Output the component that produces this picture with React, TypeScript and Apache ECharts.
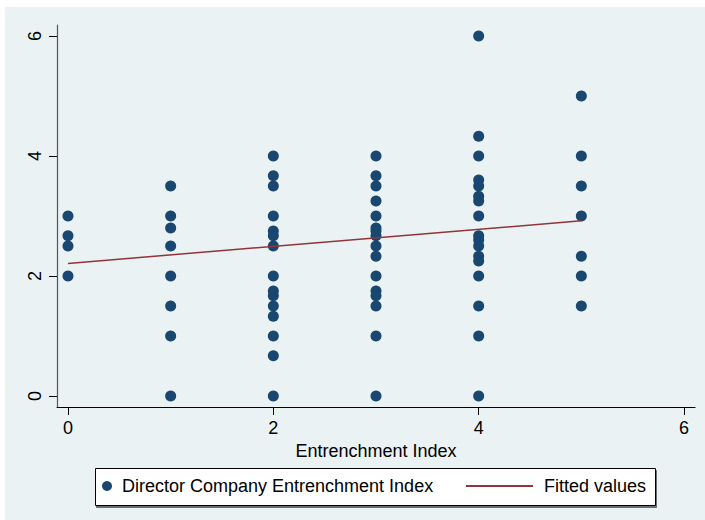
import React, { useEffect, useRef } from "react";
import * as echarts from "echarts";

const xTicks = [0, 2, 4, 6];
const yTicks = [0, 2, 4, 6];

const col0 = [3, 2.67, 2.5, 2];
const col1 = [3.5, 3, 2.8, 2.5, 2, 1.5, 1, 0];
const col2 = [4, 3.67, 3.5, 3, 2.75, 2.67, 2.5, 2, 1.75, 1.67, 1.5, 1.33, 1, 0.67, 0];
const col3 = [4, 3.67, 3.5, 3.25, 3, 2.8, 2.75, 2.67, 2.5, 2.33, 2, 1.75, 1.67, 1.5, 1, 0];
const col4 = [6, 4.33, 4, 3.6, 3.5, 3.33, 3.25, 3, 2.67, 2.6, 2.5, 2.33, 2.25, 2, 1.5, 1, 0];
const col5 = [5, 4, 3.5, 3, 2.33, 2, 1.5];
const columns = [col0, col1, col2, col3, col4, col5];

const fitX = [0, 5];
const fitY = [2.21, 2.92];

const scatterName = "Director Company Entrenchment Index";
const fitName = "Fitted values";

export default function App() {
  const ref = useRef<HTMLDivElement>(null);
  useEffect(() => {
    if (!ref.current) return;
    const chart = echarts.init(ref.current, null, { renderer: "svg" });
    const scatterData: number[][] = [];
    columns.forEach((vals, i) => vals.forEach((v) => scatterData.push([i, v])));
    const fitData = fitX.map((x, i) => [x, fitY[i]]);
    const font = "'Liberation Sans', Arial, sans-serif";
    chart.setOption({
      animation: false,
      backgroundColor: "#ffffff",
      graphic: [
        {
          type: "rect",
          z: 0,
          shape: { x: 5, y: 7, width: 700, height: 513 },
          style: { fill: "#eaf2f3" },
          silent: true,
        },
        {
          type: "rect",
          z: 1,
          shape: { x: 95.5, y: 468.5, width: 560, height: 37 },
          style: {
            fill: "#ffffff",
            stroke: "#000000",
            lineWidth: 1,
            shadowColor: "rgba(0,0,0,0.55)",
            shadowOffsetX: 1,
            shadowOffsetY: 2,
            shadowBlur: 0,
          },
          silent: true,
        },
      ],
      grid: {
        left: 57,
        right: 10,
        top: 25,
        bottom: 113,
        show: true,
        backgroundColor: "#ffffff",
        borderWidth: 0,
      },
      xAxis: {
        type: "value",
        min: -0.107,
        max: 6.107,
        name: "Entrenchment Index",
        nameLocation: "middle",
        nameGap: 34,
        nameTextStyle: { fontSize: 18, color: "#000", fontFamily: font },
        axisLine: { show: true, onZero: false, lineStyle: { color: "#000", width: 1.2 } },
        axisTick: { show: true, customValues: xTicks, length: 8, lineStyle: { color: "#000" } },
        axisLabel: { customValues: xTicks, fontSize: 18, color: "#000", margin: 12, fontFamily: font },
        splitLine: { show: false },
      },
      yAxis: {
        type: "value",
        min: -0.183,
        max: 6.183,
        axisLine: { show: true, onZero: false, lineStyle: { color: "#555", width: 1.2 } },
        axisTick: { show: true, customValues: yTicks, length: 8, lineStyle: { color: "#000" } },
        axisLabel: {
          customValues: yTicks,
          fontSize: 18,
          color: "#000",
          rotate: 90,
          margin: 13,
          fontFamily: font,
        },
        splitLine: { show: true, customValues: yTicks, lineStyle: { color: "#eaf2f3", width: 1.5 } },
      },
      legend: [
        {
          data: [scatterName],
          left: 102,
          top: 477,
          z: 5,
          padding: 0,
          icon: "circle",
          itemWidth: 10,
          itemHeight: 10,
          itemGap: 5,
          textStyle: { fontSize: 18, color: "#000", fontFamily: font, padding: [0, 0, 0, 5] },
          selectedMode: false,
        },
        {
          data: [{ name: fitName, icon: "rect" }],
          left: 466,
          top: 477,
          z: 5,
          padding: 0,
          itemWidth: 67,
          itemHeight: 2,
          textStyle: { fontSize: 18, color: "#000", fontFamily: font, padding: [0, 0, 0, 6] },
          selectedMode: false,
        },
      ],
      series: [
        {
          name: scatterName,
          type: "scatter",
          data: scatterData,
          symbol: "circle",
          symbolSize: 11,
          itemStyle: { color: "#1a476f", opacity: 1 },
          z: 3,
        },
        {
          name: fitName,
          type: "line",
          data: fitData,
          symbol: "none",
          showSymbol: false,
          lineStyle: { color: "#90353b", width: 1.5 },
          itemStyle: { color: "#90353b" },
          z: 4,
        },
      ],
    });
    return () => chart.dispose();
  }, []);
  return (
    <div
      ref={ref}
      style={{ position: "fixed", left: 0, top: 0, width: 705, height: 520 }}
    />
  );
}
